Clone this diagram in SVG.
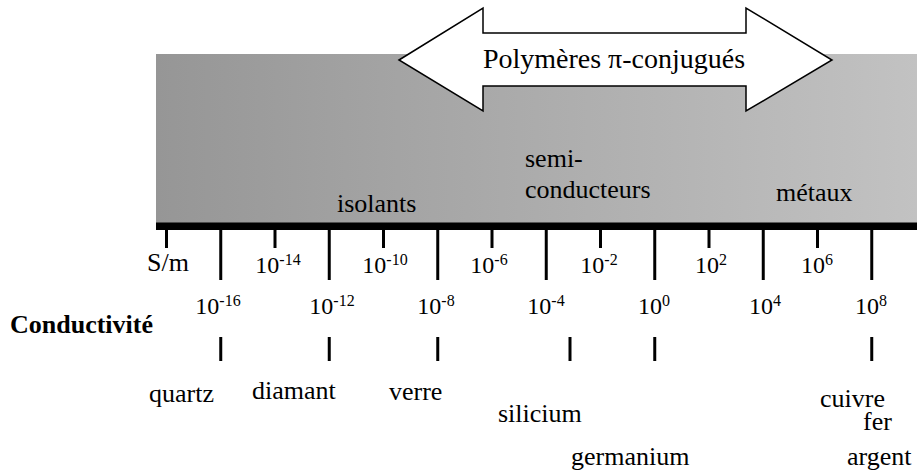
<svg xmlns="http://www.w3.org/2000/svg" width="917" height="475" viewBox="0 0 917 475">
  <defs>
    <linearGradient id="bg" x1="0" y1="0" x2="1" y2="0">
      <stop offset="0" stop-color="#969696"/>
      <stop offset="1" stop-color="#c2c2c2"/>
    </linearGradient>
    <style>
      text { font-family: "Liberation Serif", "Times New Roman", serif; fill: #000; }
      .lbl { font-size: 26px; }
      .num { font-size: 24px; text-anchor: middle; }
      .sup { font-size: 16px; }
      .tick { stroke: #000; stroke-width: 3; }
    </style>
  </defs>
  <rect width="917" height="475" fill="#fff"/>

  <g id="band">
    <rect x="156" y="54" width="761" height="169" fill="url(#bg)"/>
    <rect x="156" y="222.5" width="761" height="7.5" fill="#000"/>
  </g>

  <g id="polymeres">
    <polygon points="399,60 483,8 483,33 746,33 746,8 832,60 746,111 746,86 483,86 483,111" fill="#fff" stroke="#000" stroke-width="1.5" stroke-linejoin="miter"/>
    <text x="614" y="68" font-size="28" text-anchor="middle">Polymères π-conjugués</text>
  </g>

  <g id="categories">
    <text class="lbl" x="337" y="212">isolants</text>
    <text class="lbl" x="525" y="167">semi-</text>
    <text class="lbl" x="525" y="198">conducteurs</text>
    <text class="lbl" x="776" y="201">métaux</text>
  </g>

  <g id="axis-ticks">
    <line class="tick" x1="166.5" y1="230" x2="166.5" y2="248"/>
    <line class="tick" x1="220.75" y1="230" x2="220.75" y2="280"/>
    <line class="tick" x1="275" y1="230" x2="275" y2="248"/>
    <line class="tick" x1="329.25" y1="230" x2="329.25" y2="280"/>
    <line class="tick" x1="383.5" y1="230" x2="383.5" y2="248"/>
    <line class="tick" x1="437.75" y1="230" x2="437.75" y2="280"/>
    <line class="tick" x1="492" y1="230" x2="492" y2="248"/>
    <line class="tick" x1="546.25" y1="230" x2="546.25" y2="280"/>
    <line class="tick" x1="600.5" y1="230" x2="600.5" y2="248"/>
    <line class="tick" x1="654.75" y1="230" x2="654.75" y2="280"/>
    <line class="tick" x1="709" y1="230" x2="709" y2="248"/>
    <line class="tick" x1="763.25" y1="230" x2="763.25" y2="280"/>
    <line class="tick" x1="817.5" y1="230" x2="817.5" y2="248"/>
    <line class="tick" x1="871.75" y1="230" x2="871.75" y2="280"/>
  </g>

  <g id="axis-labels">
    <text class="lbl" x="147" y="271">S/m</text>
    <text class="num" x="278" y="273">10<tspan class="sup" dy="-8">-14</tspan></text>
    <text class="num" x="385" y="273">10<tspan class="sup" dy="-8">-10</tspan></text>
    <text class="num" x="489" y="273">10<tspan class="sup" dy="-8">-6</tspan></text>
    <text class="num" x="599" y="273">10<tspan class="sup" dy="-8">-2</tspan></text>
    <text class="num" x="711" y="273">10<tspan class="sup" dy="-8">2</tspan></text>
    <text class="num" x="817" y="273">10<tspan class="sup" dy="-8">6</tspan></text>

    <text class="num" x="218" y="314">10<tspan class="sup" dy="-8">-16</tspan></text>
    <text class="num" x="332" y="314">10<tspan class="sup" dy="-8">-12</tspan></text>
    <text class="num" x="436" y="314">10<tspan class="sup" dy="-8">-8</tspan></text>
    <text class="num" x="546" y="314">10<tspan class="sup" dy="-8">-4</tspan></text>
    <text class="num" x="654" y="314">10<tspan class="sup" dy="-8">0</tspan></text>
    <text class="num" x="765" y="314">10<tspan class="sup" dy="-8">4</tspan></text>
    <text class="num" x="871" y="314">10<tspan class="sup" dy="-8">8</tspan></text>

    <text x="10" y="333" font-size="26" font-weight="bold">Conductivité</text>
  </g>

  <g id="material-ticks">
    <line class="tick" x1="220.75" y1="337" x2="220.75" y2="361"/>
    <line class="tick" x1="329.25" y1="337" x2="329.25" y2="361"/>
    <line class="tick" x1="437.75" y1="337" x2="437.75" y2="361"/>
    <line class="tick" x1="570" y1="337" x2="570" y2="361"/>
    <line class="tick" x1="654.75" y1="337" x2="654.75" y2="361"/>
    <line class="tick" x1="871.75" y1="337" x2="871.75" y2="361"/>
  </g>

  <g id="materials">
    <text class="lbl" x="149" y="402">quartz</text>
    <text class="lbl" x="252" y="399">diamant</text>
    <text class="lbl" x="389" y="400">verre</text>
    <text class="lbl" x="498" y="422">silicium</text>
    <text class="lbl" x="571" y="465">germanium</text>
    <text class="lbl" x="820" y="407">cuivre</text>
    <text class="lbl" x="863" y="430">fer</text>
    <text class="lbl" x="847" y="465">argent</text>
  </g>
</svg>
